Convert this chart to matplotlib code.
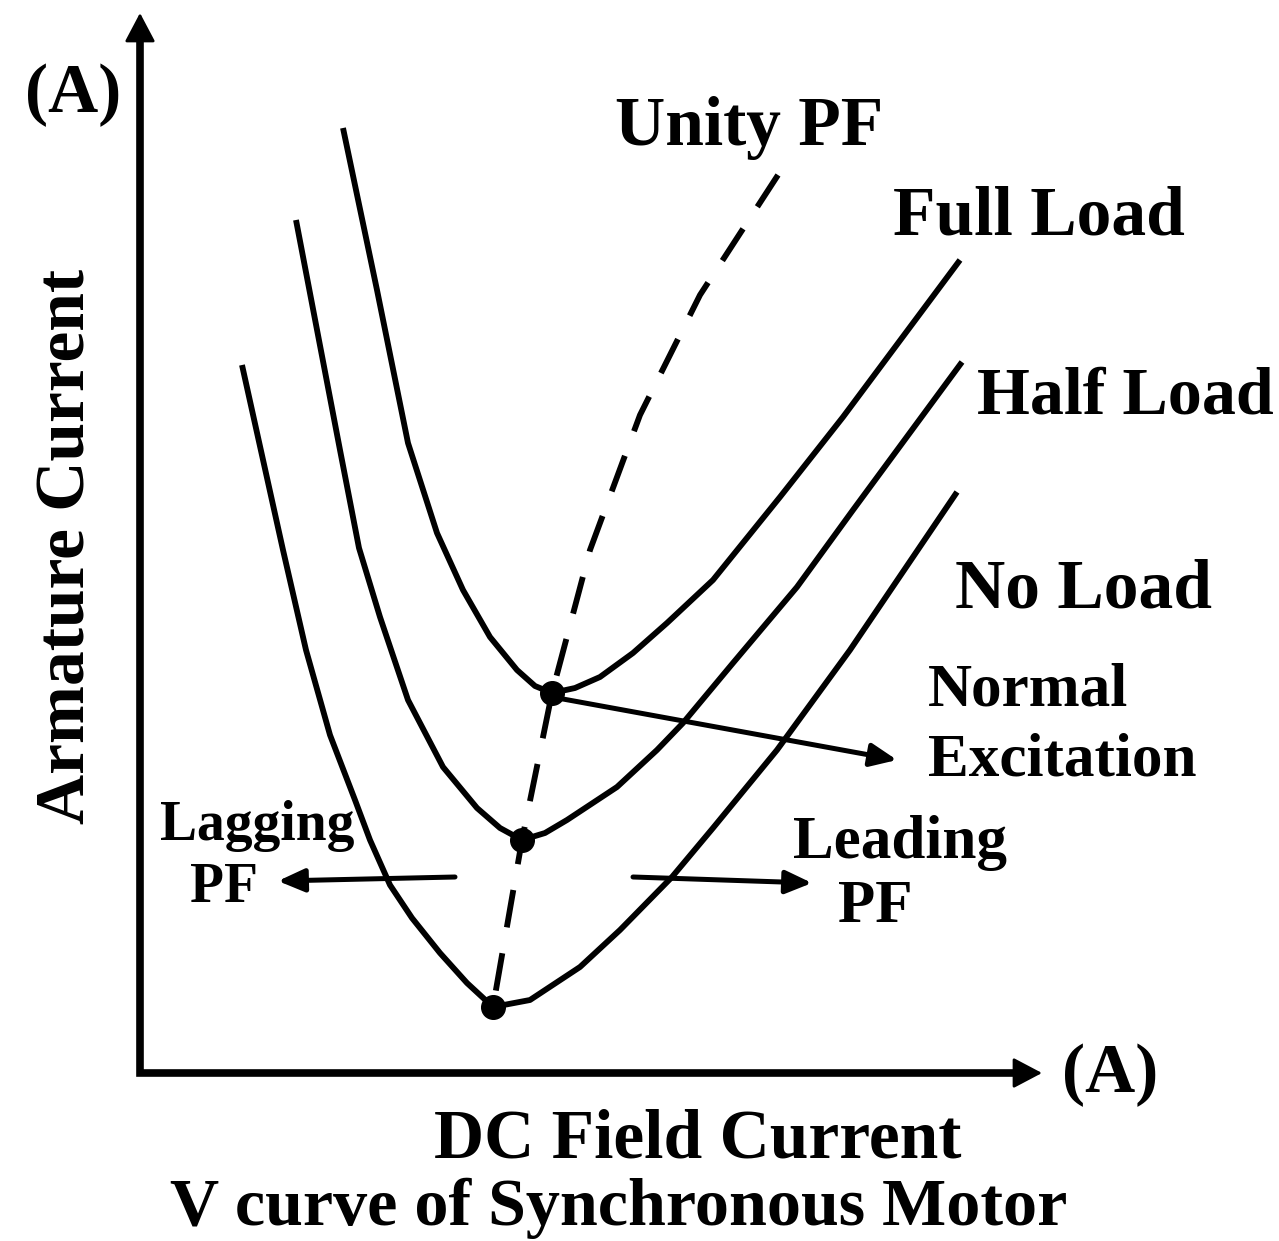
import numpy as np
import matplotlib.pyplot as plt

# V curves (field current, armature current)
full_x = [2.03, 2.37, 2.68, 2.97, 3.23, 3.50, 3.77, 3.95, 4.12, 4.35, 4.60, 4.93, 5.27, 5.73, 6.40, 7.03, 8.20]
full_y = [9.45, 7.83, 6.30, 5.40, 4.83, 4.36, 4.03, 3.87, 3.80, 3.85, 3.96, 4.20, 4.50, 4.93, 5.76, 6.56, 8.13]

half_x = [1.56, 2.00, 2.19, 2.40, 2.68, 3.03, 3.37, 3.60, 3.82, 4.05, 4.27, 4.77, 5.17, 5.43, 5.93, 6.57, 7.13, 8.22]
half_y = [8.53, 6.23, 5.25, 4.56, 3.73, 3.06, 2.65, 2.45, 2.33, 2.40, 2.53, 2.86, 3.23, 3.50, 4.10, 4.86, 5.63, 7.11]

no_x = [1.02, 1.43, 1.66, 1.90, 2.15, 2.30, 2.50, 2.72, 3.00, 3.27, 3.53, 3.90, 4.40, 4.80, 5.32, 5.73, 6.37, 7.10, 8.17]
no_y = [7.08, 5.23, 4.23, 3.38, 2.73, 2.33, 1.88, 1.55, 1.20, 0.90, 0.66, 0.73, 1.06, 1.43, 1.96, 2.45, 3.23, 4.23, 5.81]

# unity power factor locus, top end first
upf_x = [6.38, 5.60, 5.00, 4.50, 4.12, 3.82, 3.53]
upf_y = [8.98, 7.78, 6.58, 5.23, 3.80, 2.33, 0.66]

min_x = [3.53, 3.82, 4.12]
min_y = [0.66, 2.33, 3.80]

x_max = 9.02
y_max = 10.60

plt.rcParams['font.family'] = ['Liberation Serif', 'DejaVu Serif']
plt.rcParams['font.weight'] = 'bold'

fig = plt.figure(figsize=(12.79, 12.41), dpi=100)
ax = fig.add_axes([0, 0, 1, 1])
ax.set_xlim(-1.40, 11.39)
ax.set_ylim(-1.68, 10.73)
ax.axis('off')

lw = 4.2
for xs, ys in [(full_x, full_y), (half_x, half_y), (no_x, no_y)]:
    ax.plot(xs, ys, color='black', lw=lw, solid_capstyle='butt', solid_joinstyle='round')

ax.plot(upf_x, upf_y, color='black', lw=lw, dashes=(6.5, 4.5))
ax.plot(min_x, min_y, 'o', color='black', ms=17)

# axes with arrows
ax.plot([0, 0, x_max - 0.2], [y_max - 0.2, 0, 0], color='black', lw=5.5,
        solid_joinstyle='miter')
arr_axis = dict(arrowstyle='-|>,head_length=1.8,head_width=0.95', color='black', lw=2,
                shrinkA=0, shrinkB=0)
ax.annotate('', xy=(0, y_max), xytext=(0, y_max - 0.5), arrowprops=arr_axis)
ax.annotate('', xy=(x_max, 0), xytext=(x_max - 0.5, 0), arrowprops=arr_axis)

arr = dict(arrowstyle='-|>,head_length=1.6,head_width=0.7', color='black', lw=3.6,
           shrinkA=0, shrinkB=0)
ax.annotate('', xy=(7.57, 3.13), xytext=(4.12, 3.76), arrowprops=arr)
ax.annotate('', xy=(1.38, 1.92), xytext=(3.15, 1.96), arrowprops=arr)
ax.annotate('', xy=(6.72, 1.90), xytext=(4.93, 1.96), arrowprops=arr)

big = 50
mid = 44
ax.text(-0.67, 9.78, '(A)', fontsize=big, ha='center', va='center')
ax.text(9.70, -0.02, '(A)', fontsize=big, ha='center', va='center')
ax.text(4.75, 9.28, 'Unity PF', fontsize=big, ha='left', va='baseline')
ax.text(7.53, 8.38, 'Full Load', fontsize=big, ha='left', va='baseline')
ax.text(8.37, 6.60, 'Half Load', fontsize=49, ha='left', va='baseline')
ax.text(8.15, 4.65, 'No Load', fontsize=big, ha='left', va='baseline')
ax.text(7.88, 3.67, 'Normal', fontsize=mid, ha='left', va='baseline')
ax.text(7.88, 2.97, 'Excitation', fontsize=mid, ha='left', va='baseline')
ax.text(0.20, 2.33, 'Lagging', fontsize=40, ha='left', va='baseline')
ax.text(0.50, 1.71, 'PF', fontsize=40, ha='left', va='baseline')
ax.text(6.53, 2.15, 'Leading', fontsize=mid, ha='left', va='baseline')
ax.text(6.98, 1.51, 'PF', fontsize=mid, ha='left', va='baseline')
ax.text(-0.72, 5.26, 'Armature Current', fontsize=big, ha='center', va='center', rotation=90)
ax.text(5.58, -0.85, 'DC Field Current', fontsize=big, ha='center', va='baseline')
ax.text(4.79, -1.52, 'V curve of Synchronous Motor', fontsize=49, ha='center', va='baseline')

fig.savefig('out.png', dpi=100)
